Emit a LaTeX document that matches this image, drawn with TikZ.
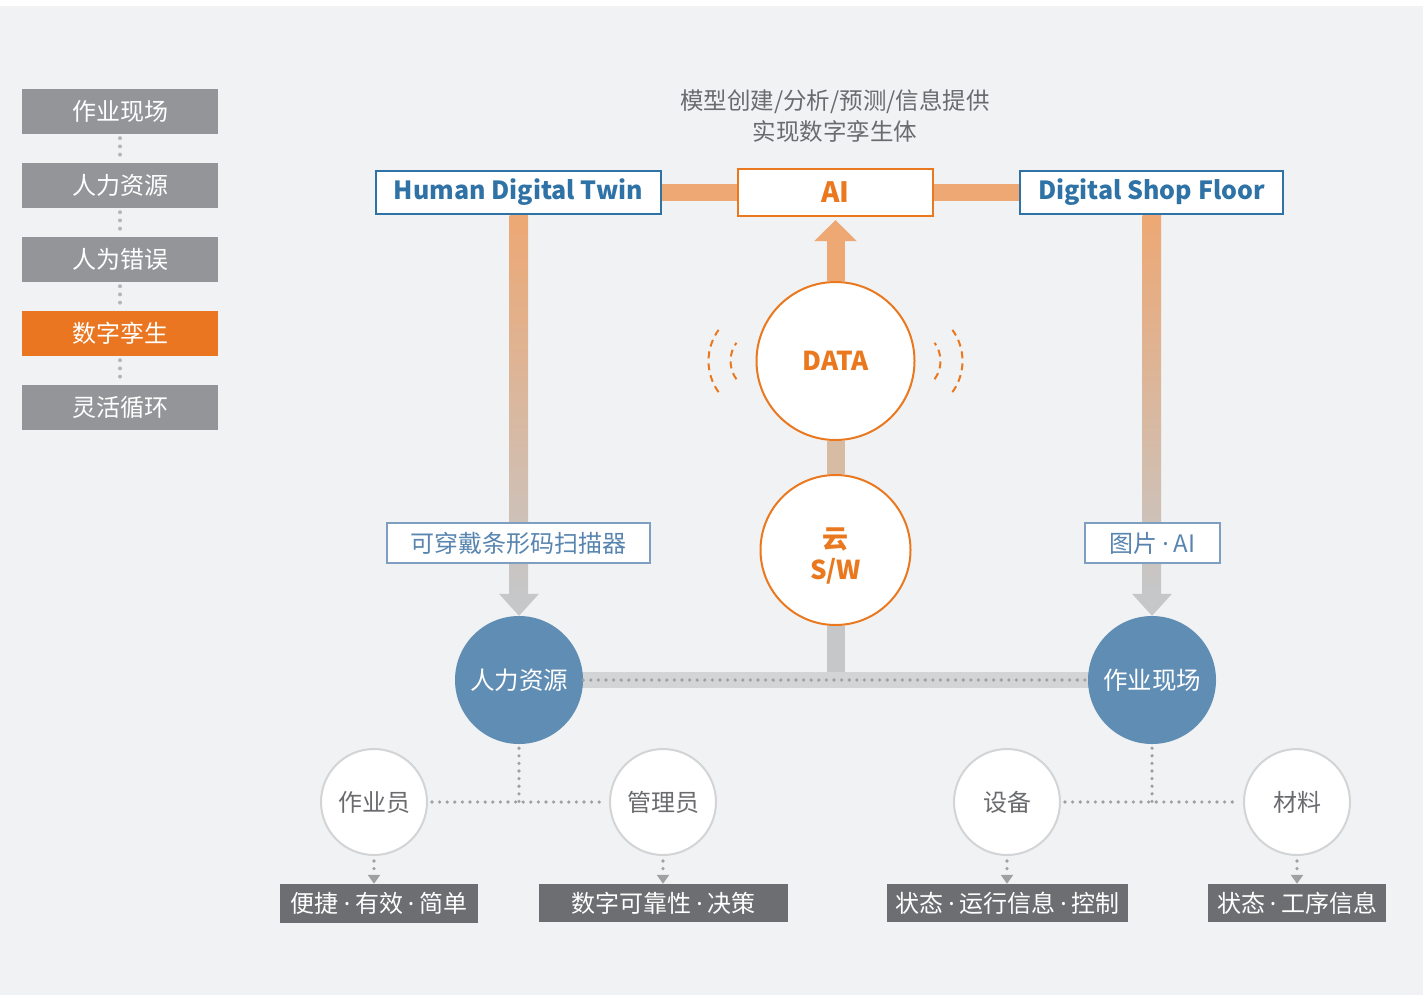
\documentclass[tikz,border=0pt]{standalone}
\usepackage{fontspec}
\setmainfont{Noto Sans CJK SC}
\newfontfamily\dotfont{Noto Sans}
\newcommand\md{\hspace{0.2em}{\dotfont ·}\hspace{0.2em}}
\usetikzlibrary{arrows.meta,calc,backgrounds}
\definecolor{bg}{HTML}{F1F2F4}
\definecolor{sidegray}{HTML}{939598}
\definecolor{sideorange}{HTML}{EB7621}
\definecolor{tblue}{HTML}{2E72A6}
\definecolor{torange}{HTML}{E9781F}
\definecolor{orbar}{HTML}{EDA874}
\definecolor{tanbar}{HTML}{D8BBA3}
\definecolor{grayarr}{HTML}{C6C7C9}
\definecolor{lightbar}{HTML}{D3D4D6}
\definecolor{lblborder}{HTML}{7E9FC2}
\definecolor{lbltext}{HTML}{5885B0}
\definecolor{bluecirc}{HTML}{608DB4}
\definecolor{darkbox}{HTML}{6D6E71}
\definecolor{dotgray}{HTML}{9FA0A2}
\definecolor{sidedotc}{HTML}{B5B6B8}
\definecolor{circborder}{HTML}{D3D4D6}
\definecolor{txtgray}{HTML}{6A6B6E}
\pgfdeclarelayer{bottom}
\pgfdeclarelayer{bars}
\pgfsetlayers{bottom,bars,main}
\tikzset{
  sidebox/.style={fill=sidegray, text=white, minimum width=196pt, minimum height=45pt, inner sep=0pt, font=\fontsize{24}{26}\selectfont},
  sideact/.style={sidebox, fill=sideorange},
  sidedots/.style={draw=sidedotc, line width=4pt, line cap=round, dash pattern=on 0pt off 8.2pt},
  titlebox/.style={draw=tblue, line width=2pt, fill=white, text=tblue, inner sep=0pt, minimum height=43pt, font=\bfseries\fontsize{25}{30}\selectfont},
  aibox/.style={draw=torange, line width=2pt, fill=white, text=torange, inner sep=0pt, minimum width=195pt, minimum height=47pt, font=\bfseries\fontsize{28}{30}\selectfont},
  orconn/.style={draw=orbar, line width=17pt},
  lblbox/.style={draw=lblborder, line width=1.5pt, fill=white, text=lbltext, inner sep=0pt, minimum height=40pt, font=\fontsize{24}{26}\selectfont},
  datacirc/.style={circle, draw=torange, line width=2pt, fill=white, text=torange, inner sep=0pt, align=center, font=\bfseries\fontsize{26}{31}\selectfont},
  circtext/.style={text=torange, inner sep=0pt, align=center, font=\bfseries\fontsize{26}{31}\selectfont},
  bluec/.style={circle, fill=bluecirc, text=white, minimum size=128pt, inner sep=0pt, font=\fontsize{24.5}{26}\selectfont},
  whitec/.style={circle, draw=circborder, line width=2pt, fill=white, text=txtgray, minimum size=106pt, inner sep=0pt, font=\fontsize{24}{26}\selectfont},
  darkb/.style={fill=darkbox, text=white, inner sep=0pt, minimum height=38pt, font=\fontsize{24}{25}\selectfont},
  dotline/.style={draw=dotgray, line width=3.6pt, line cap=round, dash pattern=on 0pt off 7.6pt},
  dotarrow/.style={dotline, -{Triangle[width=12pt,length=9pt]}, color=dotgray},
  wave/.style={draw=torange, line width=2pt, dash pattern=on 7pt off 5pt},
}
\begin{document}
\begin{tikzpicture}[x=1pt,y=-1pt]
\useasboundingbox (0,0) rectangle (1423,999);
\begin{pgfonlayer}{bottom}
\fill[white] (0,0) rectangle (1423,999);
\fill[bg] (0,6) rectangle (1423,995);
\end{pgfonlayer}

% sidebar
\node[sidebox] (s1) at (120,111.5) {作业现场};
\node[sidebox] (s2) at (120,185.5) {人力资源};
\node[sidebox] (s3) at (120,259.5) {人为错误};
\node[sideact] (s4) at (120,333.5) {数字孪生};
\node[sidebox] (s5) at (120,407.5) {灵活循环};
\draw[sidedots] ($(s1.south)+(0,4)$) -- ($(s2.north)+(0,-3)$);
\draw[sidedots] ($(s2.south)+(0,4)$) -- ($(s3.north)+(0,-3)$);
\draw[sidedots] ($(s3.south)+(0,4)$) -- ($(s4.north)+(0,-3)$);
\draw[sidedots] ($(s4.south)+(0,4)$) -- ($(s5.north)+(0,-3)$);

% top caption
\node[text=txtgray, align=center, font=\fontsize{23.5}{31}\selectfont] (cap) at (835,115.5) {模型创建/分析/预测/信息提供\\实现数字孪生体};

% title boxes
\node[titlebox, minimum width=285pt] (hdt) at (518.5,192.5) {Human Digital Twin};
\node[aibox] (ai) at (835.5,192.5) {AI};
\node[titlebox, minimum width=263pt] (dsf) at (1151.5,192.5) {Digital Shop Floor};

% center circles
\node[datacirc, minimum size=158pt] (data) at (835.5,361) {DATA};
\node[datacirc, minimum size=150pt] (cloud) at (835.5,550) {};
\node[circtext] (cloudt) at ($(cloud.center)+(0,6)$) {云\\S/W};

% blue circles
\node[bluec] (hr) at (519,680) {人力资源};
\node[bluec] (ws) at (1152,680) {作业现场};

% labels on shafts
\node[lblbox, minimum width=263pt] (lbl1) at (518.5,543) {可穿戴条形码扫描器};
\node[lblbox, minimum width=135pt] (lbl2) at (1152.5,543) {图片\md AI};

\coordinate (hb) at (hr.center -| cloud.south);

\begin{pgfonlayer}{bars}
\draw[orconn] (hdt.east) -- (ai.west);
\draw[orconn] (ai.east) -- (dsf.west);
% left gradient shaft
\shade[top color=orbar, bottom color=grayarr] ($(hdt.south)+(-9,0)$) rectangle ($(hr.north)+(9,-21)$);
\fill[grayarr] ($(hr.north)+(-20,-22)$) -- ($(hr.north)+(20,-22)$) -- (hr.north) -- cycle;
% right gradient shaft
\shade[top color=orbar, bottom color=grayarr] ($(dsf.south)+(-9,0)$) rectangle ($(ws.north)+(9,-21)$);
\fill[grayarr] ($(ws.north)+(-20,-22)$) -- ($(ws.north)+(20,-22)$) -- (ws.north) -- cycle;
% center shafts
\draw[orbar, line width=18pt, -{Triangle[width=41pt,length=21pt]}] (data.north) -- ($(ai.south)+(0,3)$);
\draw[tanbar, line width=18pt] (data.south) -- (cloud.north);
\draw[grayarr, line width=18pt] (cloud.south) -- (hb);
% horizontal bar
\draw[lightbar, line width=16pt] (hr.center) -- (ws.center);
\end{pgfonlayer}
\draw[dotline] (hr.east) -- (ws.west);

% waves
\draw[wave] ($(data.center)+(-74,0)$) ++(144:53) arc[start angle=144, end angle=216, radius=53];
\draw[wave] ($(data.center)+(-74,0)$) ++(144:31) arc[start angle=144, end angle=216, radius=31];
\draw[wave] ($(data.center)+(74,0)$) ++(36:53) arc[start angle=36, end angle=-36, radius=53];
\draw[wave] ($(data.center)+(74,0)$) ++(36:31) arc[start angle=36, end angle=-36, radius=31];

% bottom circles
\node[whitec] (op) at (374,802) {作业员};
\node[whitec] (mg) at (663,802) {管理员};
\node[whitec] (eq) at (1007,802) {设备};
\node[whitec] (mt) at (1297,802) {材料};

\coordinate (j1) at (hr.south |- op.east);
\coordinate (j2) at (ws.south |- eq.east);
\draw[dotline] ($(hr.south)+(0,4)$) -- (j1);
\draw[dotline] ($(op.east)+(4,0)$) -- ($(mg.west)+(-4,0)$);
\draw[dotline] ($(ws.south)+(0,4)$) -- (j2);
\draw[dotline] ($(eq.east)+(4,0)$) -- ($(mt.west)+(-4,0)$);

% bottom boxes
\node[darkb, minimum width=198pt, minimum height=39pt] (b1) at (379,903.5) {便捷\md 有效\md 简单};
\node[darkb, minimum width=249pt] (b2) at (663.5,903) {数字可靠性\md 决策};
\node[darkb, minimum width=241pt] (b3) at (1007.5,903) {状态\md 运行信息\md 控制};
\node[darkb, minimum width=178pt] (b4) at (1297,903) {状态\md 工序信息};

\draw[dotarrow] ($(op.south)+(0,5)$) -- (op.south |- b1.north);
\draw[dotarrow] ($(mg.south)+(0,5)$) -- (mg.south |- b2.north);
\draw[dotarrow] ($(eq.south)+(0,5)$) -- (eq.south |- b3.north);
\draw[dotarrow] ($(mt.south)+(0,5)$) -- (mt.south |- b4.north);
\end{tikzpicture}
\end{document}
